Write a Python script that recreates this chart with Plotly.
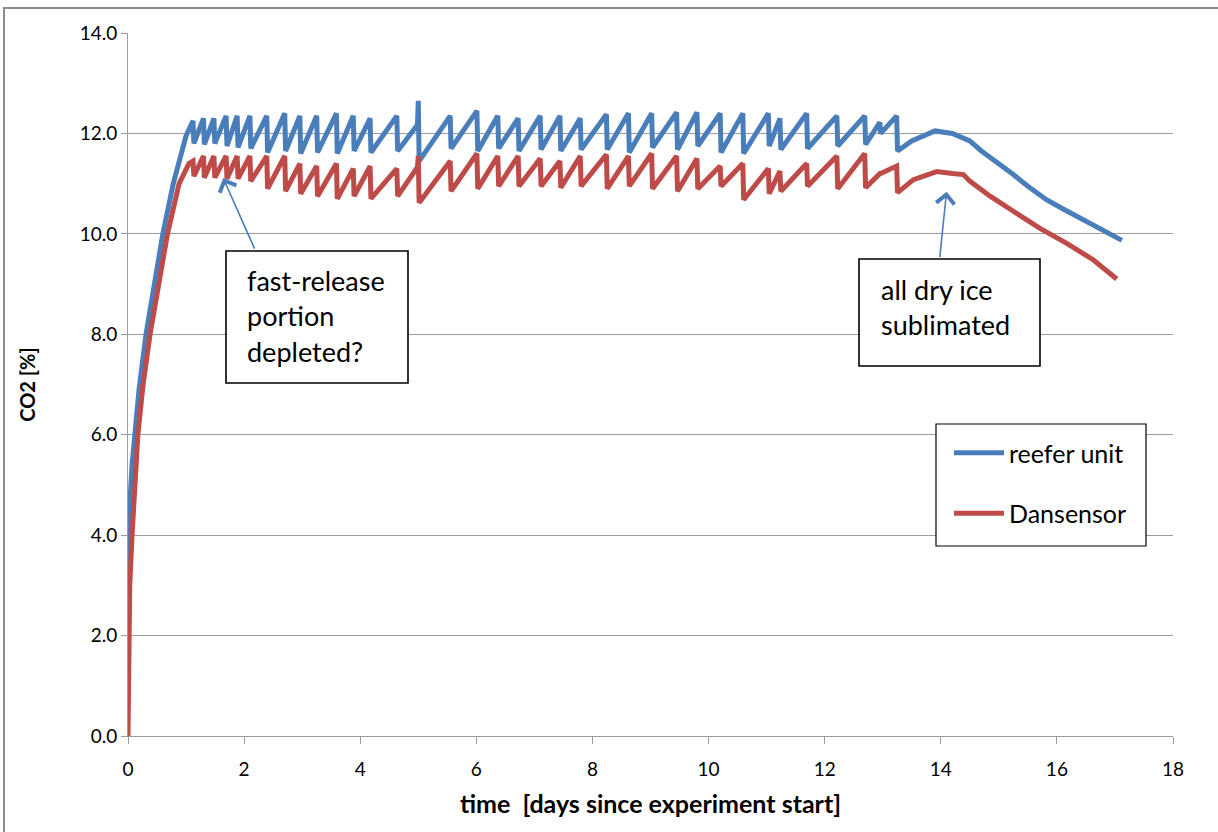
import plotly.graph_objects as go

# ---------------- data ----------------
# initial rise (days, CO2 %)
reefer_rise_t = [0.005, 0.02, 0.04, 0.07, 0.12, 0.19, 0.31, 0.45, 0.60, 0.78, 1.00]
reefer_rise_v = [2.9, 4.0, 4.8, 5.4, 6.0, 6.9, 8.0, 9.0, 10.0, 11.0, 11.95]
dan_rise_t = [0.0, 0.01, 0.03, 0.07, 0.11, 0.17, 0.26, 0.38, 0.53, 0.68, 0.88, 1.05]
dan_rise_v = [0.0, 2.0, 3.0, 4.0, 5.0, 6.0, 7.0, 8.0, 9.0, 10.0, 11.0, 11.40]

# sawtooth: time of each sharp drop (days)
tooth_t = [1.12, 1.30, 1.48, 1.69, 1.88, 2.10, 2.39, 2.70, 2.96, 3.25, 3.59, 3.88,
           4.17, 4.63, 4.97, 5.00, 5.55, 6.01, 6.37, 6.72, 7.10, 7.44, 7.79, 8.24,
           8.62, 9.02, 9.45, 9.80, 10.20, 10.59, 11.03, 11.23, 11.69, 12.21, 12.69,
           12.95, 13.24]
# value just before / just after each drop
reefer_peak = [12.25, 12.30, 12.30, 12.35, 12.35, 12.35, 12.35, 12.40, 12.35, 12.35, 12.40, 12.35,
               12.30, 12.35, 12.15, 12.65, 12.35, 12.45, 12.35, 12.30, 12.35, 12.35, 12.30, 12.38,
               12.40, 12.40, 12.42, 12.42, 12.40, 12.40, 12.40, 12.30, 12.40, 12.35, 12.35,
               12.22, 12.35]
reefer_trough = [11.80, 11.78, 11.80, 11.75, 11.72, 11.70, 11.62, 11.65, 11.60, 11.62, 11.60, 11.65,
                 11.62, 11.65, 12.15, 11.45, 11.70, 11.65, 11.70, 11.65, 11.68, 11.65, 11.68, 11.68,
                 11.62, 11.72, 11.68, 11.75, 11.62, 11.60, 11.75, 11.68, 11.70, 11.75, 11.78,
                 12.00, 11.65]
dan_peak = [11.45, 11.55, 11.55, 11.55, 11.55, 11.55, 11.55, 11.55, 11.40, 11.35, 11.40, 11.30,
            11.35, 11.30, 11.30, 11.55, 11.45, 11.60, 11.55, 11.55, 11.50, 11.45, 11.55, 11.58,
            11.55, 11.60, 11.55, 11.50, 11.35, 11.40, 11.30, 11.25, 11.40, 11.55, 11.60,
            11.20, 11.35]
dan_trough = [11.15, 11.12, 11.12, 11.10, 11.10, 11.05, 10.90, 10.85, 10.80, 10.75, 10.70, 10.75,
              10.70, 10.75, 11.30, 10.62, 10.85, 10.90, 10.95, 10.95, 10.95, 10.92, 10.95, 10.90,
              10.95, 10.90, 10.85, 10.90, 10.95, 10.68, 10.80, 10.85, 10.95, 10.90, 10.92,
              11.20, 10.82]

# final hump and decline after the dry ice is gone
reefer_tail_t = [13.5, 13.9, 14.2, 14.5, 14.7, 15.0, 15.25, 15.5, 15.82, 16.1, 16.4, 16.65, 16.86, 17.12]
reefer_tail_v = [11.85, 12.05, 12.0, 11.85, 11.65, 11.4, 11.18, 10.95, 10.68, 10.5, 10.32, 10.15, 10.02, 9.87]
dan_tail_t = [13.53, 13.93, 14.2, 14.39, 14.5, 14.85, 15.25, 15.71, 16.17, 16.63, 17.03]
dan_tail_v = [11.08, 11.24, 11.2, 11.18, 11.05, 10.75, 10.45, 10.11, 9.81, 9.48, 9.10]

DROP = 0.015  # duration of a drop (days)

x_ticks = [0, 2, 4, 6, 8, 10, 12, 14, 16, 18]
y_ticks = [0, 2, 4, 6, 8, 10, 12, 14]

series_names = ["reefer unit", "Dansensor"]
series_colors = ["#4A7EBB", "#BE4B48"]


def build(rise_t, rise_v, peaks, troughs, tail_t, tail_v):
    xs, ys = list(rise_t), list(rise_v)
    for t, p, q in zip(tooth_t, peaks, troughs):
        xs += [t, t + DROP]
        ys += [p, q]
    xs += tail_t
    ys += tail_v
    return xs, ys


rx, ry = build(reefer_rise_t, reefer_rise_v, reefer_peak, reefer_trough, reefer_tail_t, reefer_tail_v)
dx, dy = build(dan_rise_t, dan_rise_v, dan_peak, dan_trough, dan_tail_t, dan_tail_v)

# ---------------- figure ----------------
W, H = 1218, 832
L, R, T, B = 128, 45, 33, 96
PW, PH = W - L - R, H - T - B


def px(x):
    return (x - L) / PW


def py(y):
    return (H - B - y) / PH


FONT = "Lato, Carlito, Calibri, sans-serif"
fig = go.Figure()
fig.add_trace(go.Scatter(x=rx, y=ry, mode="lines", name=series_names[0],
                         line=dict(color=series_colors[0], width=5), legendgroup="a"))
fig.add_trace(go.Scatter(x=dx, y=dy, mode="lines", name=series_names[1],
                         line=dict(color=series_colors[1], width=5), legendgroup="b"))

GRID = "#9C9C9C"
TICKFONT = dict(family=FONT, size=19, color="#000000")

fig.update_layout(
    width=W, height=H,
    margin=dict(l=L, r=R, t=T, b=B),
    paper_bgcolor="white", plot_bgcolor="white",
    showlegend=True,
    legend=dict(x=px(949), y=py(430), xanchor="left", yanchor="top",
                bgcolor="rgba(0,0,0,0)", borderwidth=0,
                font=dict(family=FONT, size=25, color="#000"),
                tracegroupgap=25, traceorder="grouped", itemwidth=50),
    xaxis=dict(range=[0, 18], tickvals=x_ticks, showgrid=False, zeroline=False,
               showline=True, linecolor=GRID, linewidth=1,
               ticks="outside", ticklen=7, tickcolor=GRID, tickfont=TICKFONT,
               ticklabelstandoff=9,
               title=dict(text="<b>time  [days since experiment start]</b>",
                          font=dict(family=FONT, size=25, color="#000"),
                          standoff=16)),
    yaxis=dict(range=[0, 14], tickvals=y_ticks, tickformat=".1f", showgrid=True, gridcolor=GRID,
               gridwidth=1, zeroline=False, showline=True, linecolor=GRID, linewidth=1,
               ticks="outside", ticklen=6, tickcolor=GRID, tickfont=TICKFONT,
               title=dict(text="<b>CO2 [%]</b>",
                          font=dict(family=FONT, size=20, color="#000"),
                          standoff=38)),
)

shapes = []
# outer chart border
shapes.append(dict(type="rect", xref="paper", yref="paper", x0=px(4), x1=px(1240), y0=py(8), y1=py(860),
                   line=dict(color="#8C8C8C", width=2), fillcolor="rgba(0,0,0,0)", layer="below"))
# legend box
shapes.append(dict(type="rect", xref="paper", yref="paper", x0=px(936), x1=px(1146), y0=py(424), y1=py(546),
                   line=dict(color="#000000", width=1.2), fillcolor="white", layer="above"))
# annotation boxes
shapes.append(dict(type="rect", xref="paper", yref="paper", x0=px(226), x1=px(408), y0=py(251), y1=py(383),
                   line=dict(color="#000000", width=1.6), fillcolor="white", layer="above"))
shapes.append(dict(type="rect", xref="paper", yref="paper", x0=px(859), x1=px(1040), y0=py(259), y1=py(366),
                   line=dict(color="#000000", width=1.6), fillcolor="white", layer="above"))
fig.update_layout(shapes=shapes)

ANNFONT = dict(family=FONT, size=27, color="#000")
ann = []
for txt, yy in [("fast-release", 280), ("portion", 316), ("depleted?", 352)]:
    ann.append(dict(text=txt, xref="paper", yref="paper", x=px(245), y=py(yy), xanchor="left",
                    yanchor="middle", showarrow=False, font=ANNFONT))
for txt, yy in [("all dry ice", 289), ("sublimated", 325)]:
    ann.append(dict(text=txt, xref="paper", yref="paper", x=px(879), y=py(yy), xanchor="left",
                    yanchor="middle", showarrow=False, font=ANNFONT))
# arrows pointing at the data
ARROW = "#4A7EBB"
ann.append(dict(text="", x=1.64, y=11.11, xref="x", yref="y", ax=32, ay=72, showarrow=True,
                arrowhead=4, arrowsize=2.2, arrowwidth=1.6, arrowcolor=ARROW, standoff=0))
ann.append(dict(text="", x=14.10, y=10.84, xref="x", yref="y", ax=-7, ay=67, showarrow=True,
                arrowhead=4, arrowsize=2.2, arrowwidth=1.6, arrowcolor=ARROW, standoff=0))
fig.update_layout(annotations=ann)

# remove the default 8px page margin so the figure sits at the window's top-left corner
fig.write_html("out.html", config={"displayModeBar": False},
               post_script="document.body.style.margin='0px';")
